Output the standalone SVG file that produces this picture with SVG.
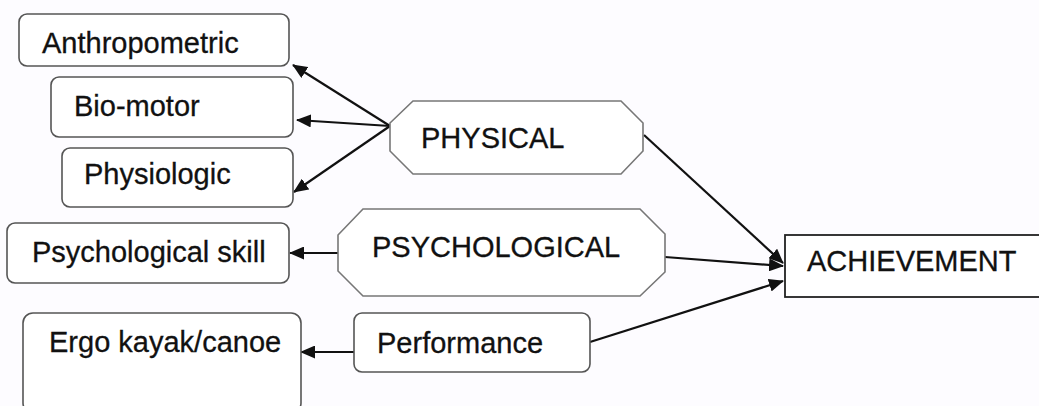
<svg xmlns="http://www.w3.org/2000/svg" width="1039" height="406" viewBox="0 0 1039 406">
  <style>
    .box { fill: #ffffff; stroke: #555555; stroke-width: 1.6; }
    .oct { fill: #ffffff; stroke: #777777; stroke-width: 1.6; }
    .goal { fill: #ffffff; stroke: #222222; stroke-width: 1.8; }
    .lbl { font-family: "Liberation Sans", Arial, sans-serif; font-size: 29px; fill: #111111; stroke: #111111; stroke-width: 0.3; }
    .edge { fill: none; stroke: #111111; stroke-width: 2.2; marker-end: url(#arrow); }
  </style>
  <defs>
    <marker id="arrow" viewBox="0 0 15 13" refX="14" refY="6.5" markerWidth="15" markerHeight="13" markerUnits="userSpaceOnUse" orient="auto">
      <path d="M0,0 L15,6.5 L0,13 z" fill="#111111"/>
    </marker>
  </defs>
  <rect width="1039" height="406" fill="#fdfcff"/>

  <!-- connectors -->
  <g id="connectors">
    <line class="edge" x1="390" y1="126" x2="293" y2="65"/>
    <line class="edge" x1="390" y1="126" x2="297" y2="120"/>
    <line class="edge" x1="390" y1="126" x2="294" y2="192"/>
    <line class="edge" x1="338" y1="253" x2="290" y2="253"/>
    <line class="edge" x1="354" y1="352" x2="301" y2="352"/>
    <line class="edge" x1="644" y1="135" x2="783" y2="263"/>
    <line class="edge" x1="665" y1="257" x2="783" y2="266"/>
    <line class="edge" x1="590" y1="342" x2="783" y2="281"/>
  </g>

  <!-- left-hand component boxes -->
  <g id="anthropometric">
    <rect class="box" x="19" y="14" width="270" height="52" rx="8"/>
    <text class="lbl" x="42" y="53">Anthropometric</text>
  </g>
  <g id="bio-motor">
    <rect class="box" x="51" y="77" width="242" height="60" rx="8"/>
    <text class="lbl" x="74" y="116">Bio-motor</text>
  </g>
  <g id="physiologic">
    <rect class="box" x="62" y="148" width="231" height="59" rx="8"/>
    <text class="lbl" x="84" y="184">Physiologic</text>
  </g>
  <g id="psychological-skill">
    <rect class="box" x="7" y="223" width="282" height="60" rx="8"/>
    <text class="lbl" x="32" y="262">Psychological skill</text>
  </g>
  <g id="ergo">
    <rect class="box" x="23" y="313" width="278" height="100" rx="10"/>
    <text class="lbl" x="49" y="352">Ergo kayak/canoe</text>
  </g>

  <!-- factor groups -->
  <g id="physical">
    <polygon class="oct" points="413,101 621,101 643,123 643,151 621,174 413,174 390,151 390,123"/>
    <text class="lbl" x="421" y="148">PHYSICAL</text>
  </g>
  <g id="psychological">
    <polygon class="oct" points="363,209 640,209 665,234 665,272 640,296 363,296 338,271 338,235"/>
    <text class="lbl" x="372" y="257">PSYCHOLOGICAL</text>
  </g>
  <g id="performance">
    <rect class="box" x="354" y="313" width="236" height="59" rx="8"/>
    <text class="lbl" x="377" y="353">Performance</text>
  </g>

  <!-- outcome -->
  <g id="achievement">
    <rect class="goal" x="785" y="235" width="270" height="62"/>
    <text class="lbl" x="807" y="271">ACHIEVEMENT</text>
  </g>
</svg>
